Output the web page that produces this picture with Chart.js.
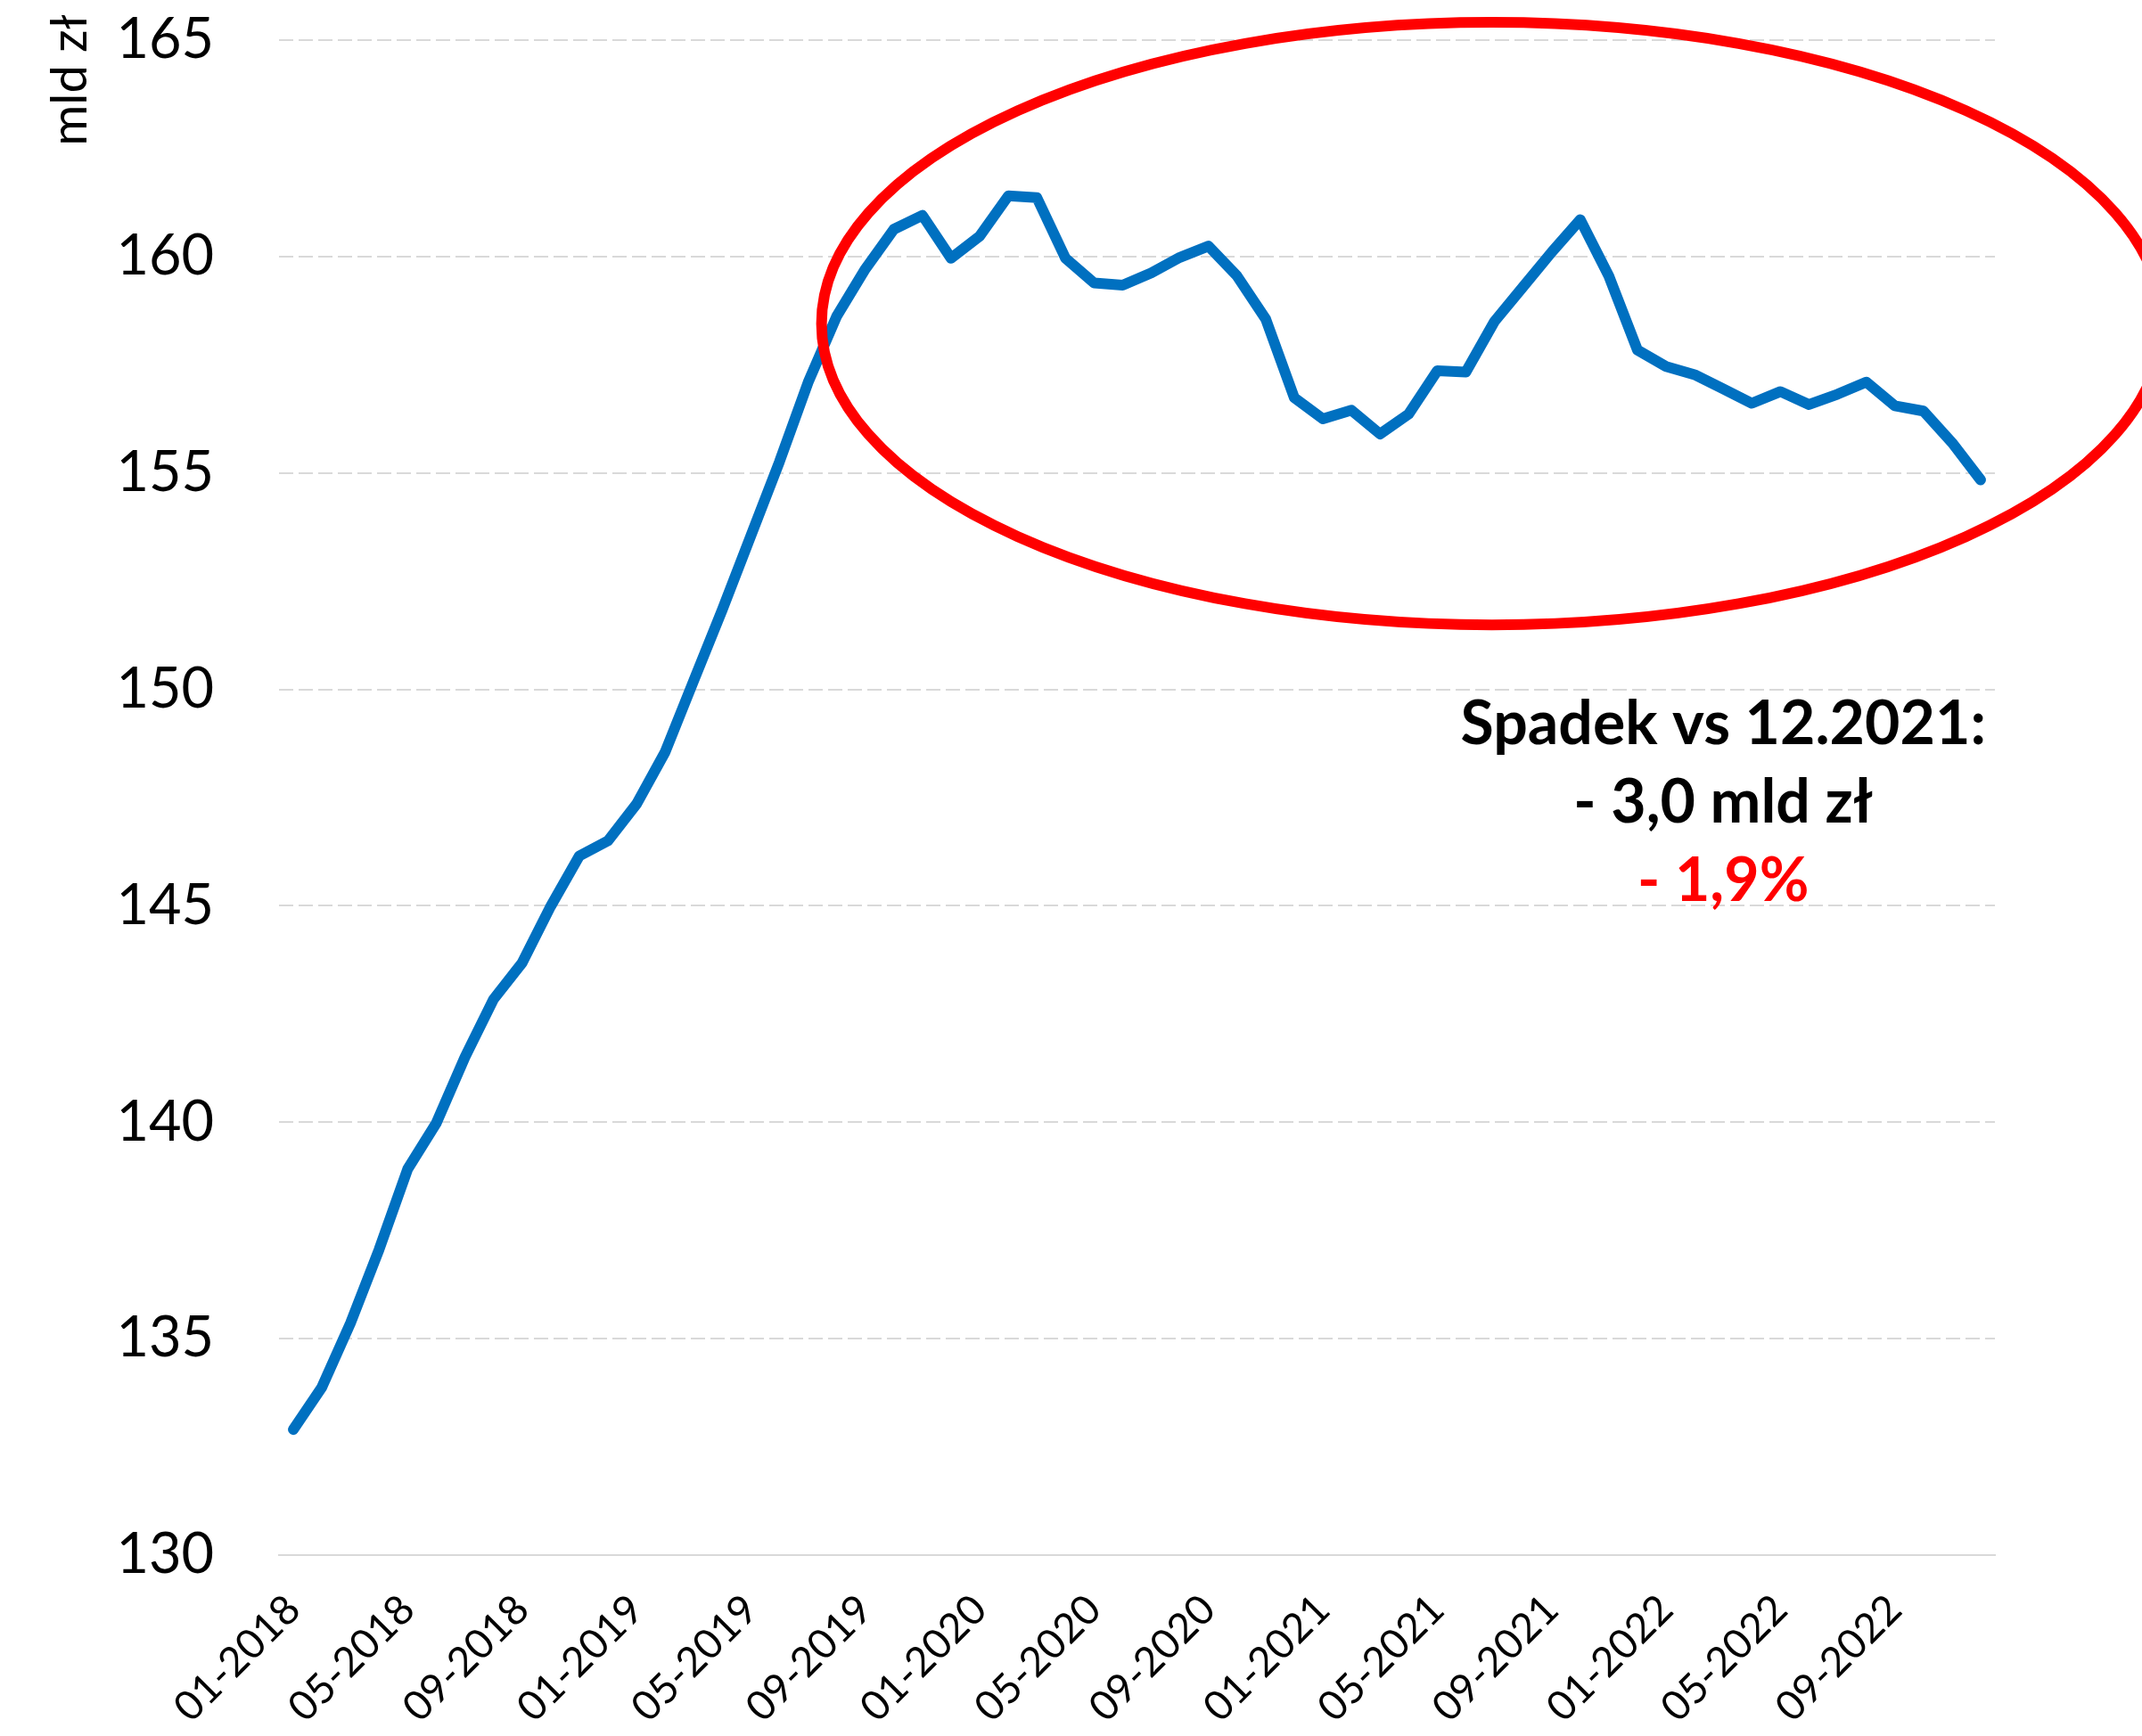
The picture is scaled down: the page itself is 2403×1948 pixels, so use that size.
<!DOCTYPE html>
<html>
<head>
<meta charset="utf-8">
<script src="https://cdn.jsdelivr.net/npm/chart.js@4.4.1/dist/chart.umd.min.js"></script>
<style>
  html, body { margin: 0; padding: 0; background: #fff; }
</style>
</head>
<body>
<canvas id="debt-chart" width="2403" height="1948"></canvas>
<script>
// monthly categories 01-2018 .. 12-2022
const monthLabels = [
  '01-2018', '02-2018', '03-2018', '04-2018', '05-2018', '06-2018', '07-2018', '08-2018', '09-2018', '10-2018', '11-2018', '12-2018',
  '01-2019', '02-2019', '03-2019', '04-2019', '05-2019', '06-2019', '07-2019', '08-2019', '09-2019', '10-2019', '11-2019', '12-2019',
  '01-2020', '02-2020', '03-2020', '04-2020', '05-2020', '06-2020', '07-2020', '08-2020', '09-2020', '10-2020', '11-2020', '12-2020',
  '01-2021', '02-2021', '03-2021', '04-2021', '05-2021', '06-2021', '07-2021', '08-2021', '09-2021', '10-2021', '11-2021', '12-2021',
  '01-2022', '02-2022', '03-2022', '04-2022', '05-2022', '06-2022', '07-2022', '08-2022', '09-2022', '10-2022', '11-2022', '12-2022',
];

// mld zł
const debtValues = [
  132.9, 133.88, 135.36, 137.06, 138.92, 139.98, 141.5, 142.84, 143.68, 144.99, 146.15, 146.5,
  147.35, 148.55, 150.2, 151.84, 153.55, 155.26, 157.09, 158.62, 159.71, 160.63, 160.95, 159.96,
  160.47, 161.4, 161.36, 159.96, 159.39, 159.34, 159.62, 159.98, 160.24, 159.55, 158.56, 156.74,
  156.25, 156.45, 155.9, 156.36, 157.36, 157.33, 158.5, 159.3, 160.1, 160.85, 159.55, 157.84,
  157.46, 157.27, 156.94, 156.61, 156.88, 156.58, 156.82, 157.1, 156.55, 156.43, 155.7, 154.84,
];

const yTicks = [130, 135, 140, 145, 150, 155, 160, 165];
const yTitle = 'mld zł';

// note under the circled part, anchored in data units
const noteLines = ['Spadek vs 12.2021:', '- 3,0 mld zł', '- 1,9%'];
const noteColors = ['#000000', '#000000', '#FF0000'];
const noteAnchor = { index: 50, value: 148.73 };

// red ellipse round 2019-2022
const focusCenter = { index: 41.91, value: 158.45 };
const focusRadius = { months: 23.44, value: 6.96 };

const FONT = 'Lato, "Open Sans", sans-serif';

const overlayPlugin = {
  id: 'overlay',
  afterDatasetsDraw(chart) {
    const { ctx, scales: { x, y } } = chart;

    const cx = x.getPixelForValue(focusCenter.index);
    const cy = y.getPixelForValue(focusCenter.value);
    const rx = x.getPixelForValue(focusCenter.index + focusRadius.months) - cx;
    const ry = y.getPixelForValue(focusCenter.value - focusRadius.value) - cy;
    ctx.save();
    ctx.beginPath();
    ctx.ellipse(cx, cy, rx, ry, 0, 0, Math.PI * 2);
    ctx.strokeStyle = '#FF0000';
    ctx.lineWidth = 12;
    ctx.stroke();
    ctx.restore();

    const tx = x.getPixelForValue(noteAnchor.index);
    const ty = y.getPixelForValue(noteAnchor.value);
    ctx.save();
    ctx.font = 'bold 68px ' + FONT;
    ctx.textAlign = 'center';
    ctx.textBaseline = 'alphabetic';
    noteLines.forEach((line, i) => {
      ctx.fillStyle = noteColors[i];
      ctx.fillText(line, tx, ty + i * 88);
    });
    ctx.restore();
  },
  afterDraw(chart) {
    const { ctx } = chart;
    ctx.save();
    ctx.translate(97, 90);
    ctx.rotate(-Math.PI / 2);
    ctx.font = '56px ' + FONT;
    ctx.fillStyle = '#000000';
    ctx.textAlign = 'center';
    ctx.textBaseline = 'alphabetic';
    ctx.fillText(yTitle, 0, 0);
    ctx.restore();
  },
};

new Chart(document.getElementById('debt-chart'), {
  type: 'line',
  data: {
    labels: monthLabels,
    datasets: [
      {
        label: 'mld zł',
        data: debtValues,
        borderColor: '#0070C0',
        borderWidth: 12,
        borderCapStyle: 'round',
        borderJoinStyle: 'round',
        pointRadius: 0,
        tension: 0,
        fill: false,
      },
    ],
  },
  options: {
    responsive: false,
    animation: false,
    devicePixelRatio: 1,
    layout: {
      padding: { top: 45, right: 165, bottom: 0, left: 0 },
    },
    plugins: {
      legend: { display: false },
      tooltip: { enabled: false },
    },
    scales: {
      x: {
        offset: true,
        grid: { display: false },
        border: { display: true, color: '#D9D9D9', width: 2 },
        ticks: {
          autoSkip: false,
          minRotation: 45,
          maxRotation: 45,
          padding: 26,
          color: '#000000',
          font: { family: FONT, size: 46 },
          callback: (value, index) => (index % 4 === 0 ? monthLabels[index] : ''),
        },
        afterFit(scale) {
          scale.height = 203;
        },
      },
      y: {
        min: yTicks[0],
        max: yTicks[yTicks.length - 1],
        grid: { color: '#D9D9D9', lineWidth: 2, drawTicks: false },
        border: { display: false, dash: [16, 6] },
        ticks: {
          stepSize: 5,
          padding: 73,
          color: '#000000',
          font: { family: FONT, size: 63 },
        },
        afterFit(scale) {
          scale.width = 313;
          // tick padding should not push the plot down
          scale.paddingTop = 0;
          scale.paddingBottom = 0;
        },
      },
    },
  },
  plugins: [overlayPlugin],
});
</script>
</body>
</html>
